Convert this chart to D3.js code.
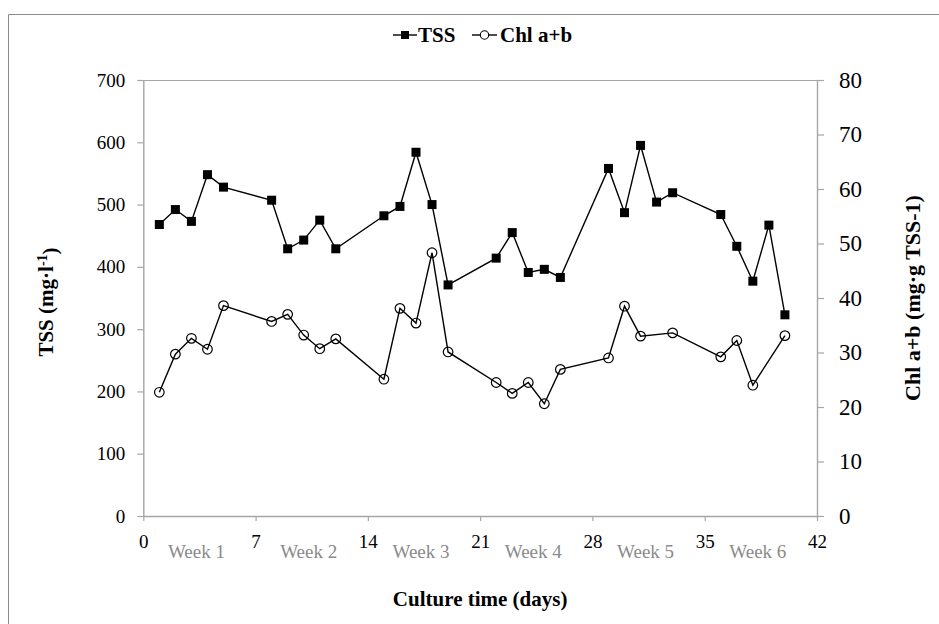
<!DOCTYPE html>
<html>
<head>
<meta charset="utf-8">
<script src="https://cdn.jsdelivr.net/npm/d3@7"></script>
<style>
  html, body { margin: 0; padding: 0; background: #fff; }
  svg { display: block; font-family: "Liberation Serif", "Times New Roman", serif; }
  svg text { font-family: "Liberation Serif", "Times New Roman", serif; }
</style>
</head>
<body>
<svg id="chart" width="939" height="624"></svg>
<script>
// Sampling days (culture time)
const tssDays = [1, 2, 3, 4, 5, 8, 9, 10, 11, 12, 15, 16, 17, 18, 19, 22, 23, 24, 25, 26, 29, 30, 31, 32, 33, 36, 37, 38, 39, 40];
// Total suspended solids (mg·l-1)
const tssValues = [468, 492, 473, 548, 528, 507, 429, 443, 475, 429, 482, 497, 584, 500, 371, 414, 455, 391, 396, 383, 558, 487, 595, 504, 519, 484, 433, 377, 467, 323];

const chlDays = [1, 2, 3, 4, 5, 8, 9, 10, 11, 12, 15, 16, 17, 18, 19, 22, 23, 24, 25, 26, 29, 30, 31, 33, 36, 37, 38, 40];
// Chlorophyll a+b (mg·g TSS-1)
const chlValues = [22.7, 29.7, 32.6, 30.6, 38.6, 35.7, 37.0, 33.2, 30.7, 32.5, 25.1, 38.1, 35.4, 48.3, 30.1, 24.5, 22.5, 24.5, 20.6, 26.9, 29.0, 38.5, 33.0, 33.6, 29.2, 32.2, 24.0, 33.1];

const xTicks = [0, 7, 14, 21, 28, 35, 42];
const leftTicks = [0, 100, 200, 300, 400, 500, 600, 700];
const rightTicks = [0, 10, 20, 30, 40, 50, 60, 70, 80];
const weekLabels = ["Week 1", "Week 2", "Week 3", "Week 4", "Week 5", "Week 6"];
const seriesNames = ["TSS", "Chl a+b"];

const FONT = "'Liberation Serif', 'Times New Roman', serif";
const svg = d3.select("#chart");
const margin = { left: 143.3, right: 817, top: 80, bottom: 516 };

const x = d3.scaleLinear().domain([0, 42]).range([margin.left, margin.right]);
const yL = d3.scaleLinear().domain([0, 700]).range([margin.bottom, margin.top]);
const yR = d3.scaleLinear().domain([0, 80]).range([margin.bottom, margin.top]);

const axisGray = "#a6a6a6";

// outer frame of the chart object
svg.append("path")
  .attr("d", "M8.5,624 V14.5 H939")
  .attr("fill", "none").attr("stroke", "#8c8c8c").attr("stroke-width", 1);

// plot area top border
svg.append("line")
  .attr("x1", margin.left).attr("x2", margin.right)
  .attr("y1", margin.top + 0.5).attr("y2", margin.top + 0.5)
  .attr("stroke", axisGray).attr("stroke-width", 1.2);

function styleAxis(g, fontSize) {
  g.attr("font-family", FONT).attr("font-size", fontSize);
  g.select(".domain").attr("stroke", axisGray).attr("stroke-width", 1.4);
  g.selectAll(".tick line").attr("stroke", axisGray).attr("stroke-width", 1.2);
  g.selectAll(".tick text").attr("fill", "#000");
}

// left axis (TSS)
const gL = svg.append("g").attr("transform", `translate(${margin.left},0)`)
  .call(d3.axisLeft(yL).tickValues(leftTicks).tickSize(6).tickSizeOuter(0).tickPadding(12));
styleAxis(gL, 19);

// right axis (Chl a+b)
const gR = svg.append("g").attr("transform", `translate(${margin.right},0)`)
  .call(d3.axisRight(yR).tickValues(rightTicks).tickSize(7).tickSizeOuter(0).tickPadding(15));
styleAxis(gR, 23);

// bottom axis (days)
const gB = svg.append("g").attr("transform", `translate(0,${margin.bottom})`)
  .call(d3.axisBottom(x).tickValues(xTicks).tickSize(5).tickSizeOuter(0).tickPadding(14));
styleAxis(gB, 19);

// week labels, centred in each week
svg.append("g").selectAll("text")
  .data(weekLabels)
  .join("text")
  .attr("x", (d, i) => x(7 * i + 3.5) - 3)
  .attr("y", 551)
  .attr("dy", "0.35em")
  .attr("text-anchor", "middle")
  .attr("fill", "#8a8a8a")
  .style("font-size", "19px")
  .text(d => d);

// axis titles
svg.append("text")
  .attr("x", (margin.left + margin.right) / 2).attr("y", 599)
  .attr("dy", "0.35em")
  .attr("text-anchor", "middle")
  .style("font-weight", "bold").style("font-size", "21px")
  .text("Culture time (days)");

const lt = svg.append("text")
  .attr("transform", `translate(46,${(margin.top + margin.bottom) / 2 + 4}) rotate(-90)`)
  .attr("text-anchor", "middle")
  .attr("dy", "0.35em")
  .style("font-weight", "bold").style("font-size", "21px");
lt.append("tspan").text("TSS (mg·l");
lt.append("tspan").attr("dy", "-0.45em").style("font-size", "14px").text("-1");
lt.append("tspan").attr("dy", "0.45em").text(")");

svg.append("text")
  .attr("transform", `translate(912,${(margin.top + margin.bottom) / 2}) rotate(-90)`)
  .attr("text-anchor", "middle")
  .attr("dy", "0.35em")
  .style("font-weight", "bold").style("font-size", "22px")
  .text("Chl a+b (mg·g TSS-1)");

// series
const tssData = tssDays.map((d, i) => ({ day: d, v: tssValues[i] }));
const chlData = chlDays.map((d, i) => ({ day: d, v: chlValues[i] }));

svg.append("path")
  .datum(tssData)
  .attr("fill", "none").attr("stroke", "#000").attr("stroke-width", 1.4)
  .attr("d", d3.line().x(d => x(d.day)).y(d => yL(d.v)));

svg.append("path")
  .datum(chlData)
  .attr("fill", "none").attr("stroke", "#000").attr("stroke-width", 1.4)
  .attr("d", d3.line().x(d => x(d.day)).y(d => yR(d.v)));

const sq = 9;
svg.append("g").selectAll("rect")
  .data(tssData)
  .join("rect")
  .attr("x", d => x(d.day) - sq / 2)
  .attr("y", d => yL(d.v) - sq / 2)
  .attr("width", sq).attr("height", sq)
  .attr("fill", "#000");

svg.append("g").selectAll("circle")
  .data(chlData)
  .join("circle")
  .attr("cx", d => x(d.day))
  .attr("cy", d => yR(d.v))
  .attr("r", 4.8)
  .attr("fill", "none")
  .attr("stroke", "#000").attr("stroke-width", 1.2);

// legend
const legend = svg.append("g").style("font-weight", "bold").style("font-size", "21px");
const lg1 = legend.append("g").attr("transform", "translate(393,35)");
lg1.append("line").attr("x1", 0).attr("x2", 24).attr("stroke", "#000").attr("stroke-width", 1.4);
lg1.append("rect").attr("x", 8).attr("y", -4).attr("width", 8).attr("height", 8).attr("fill", "#000");
lg1.append("text").attr("x", 25).attr("dy", "0.35em").text(seriesNames[0]);

const lg2 = legend.append("g").attr("transform", "translate(472,35)");
lg2.append("line").attr("x1", 0).attr("x2", 25).attr("stroke", "#000").attr("stroke-width", 1.4);
lg2.append("circle").attr("cx", 12.5).attr("r", 4.2).attr("fill", "#fff").attr("stroke", "#000").attr("stroke-width", 1.1);
lg2.append("text").attr("x", 28).attr("dy", "0.35em").text(seriesNames[1]);
</script>
</body>
</html>
